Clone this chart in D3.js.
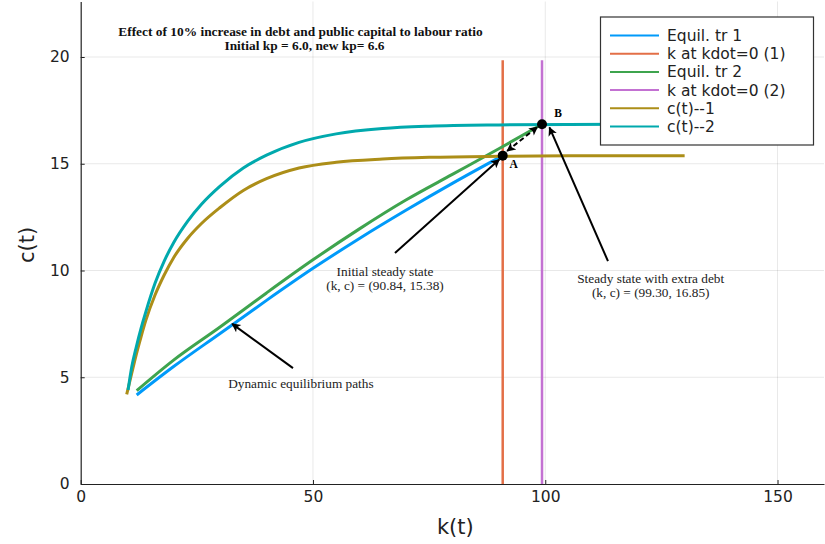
<!DOCTYPE html>
<html>
<head>
<meta charset="utf-8">
<script src="https://cdn.jsdelivr.net/npm/d3@7"></script>
<style>
  body { margin: 0; background: #fff; }
</style>
</head>
<body>
<script>
'use strict';

// axis ticks
const kTicks = [0, 50, 100, 150];
const cTicks = [0, 5, 10, 15, 20];

// Equil. tr 1 (initial saddle path)
const tr1K = [12.05, 20, 30, 40, 50, 60, 70, 80, 90.84];
const tr1C = [4.17, 5.5, 7.05, 8.6, 10.1, 11.5, 12.82, 14.08, 15.38];

// Equil. tr 2 (saddle path with extra debt)
const tr2K = [12.05, 20, 30, 40, 50, 60, 70, 80, 90, 99.3];
const tr2C = [4.37, 5.8, 7.35, 8.95, 10.5, 11.95, 13.3, 14.5, 15.7, 16.85];

// c(t)--1
const ct1K = [9.9, 11, 12, 13, 14, 16, 18, 20, 23, 26, 30, 35, 40, 47, 55, 65, 75, 90, 105, 130];
const ct1C = [4.2, 5.2, 6.1, 6.9, 7.65, 8.85, 9.8, 10.6, 11.5, 12.2, 12.95, 13.75, 14.3, 14.8, 15.07, 15.22, 15.3, 15.35, 15.37, 15.38];

// c(t)--2
const ct2K = [10.2, 11, 12, 13, 14, 16, 18, 20, 23, 26, 30, 35, 40, 47, 55, 65, 75, 90, 105, 130];
const ct2C = [4.4, 5.5, 6.45, 7.3, 8.05, 9.4, 10.45, 11.3, 12.3, 13.1, 13.95, 14.8, 15.4, 16.0, 16.4, 16.65, 16.76, 16.82, 16.84, 16.85];

// k at kdot = 0 vertical lines
const kdot1 = 90.84;
const kdot2 = 99.30;
const vlineC = [0, 19.85];

// steady states
const steadyK = [90.84, 99.30];
const steadyC = [15.38, 16.85];
const steadyNames = ["A", "B"];

const legendLabels = ["Equil. tr 1", "k at kdot=0 (1)", "Equil. tr 2", "k at kdot=0 (2)", "c(t)--1", "c(t)--2"];
const seriesColors = ["#009AFA", "#E36F47", "#3EA44E", "#C371D2", "#AC8E18", "#00A9AD"];

const titleLines = ["Effect of 10% increase in debt and public capital to labour ratio",
                    "Initial kp = 6.0, new kp= 6.6"];

(function() {

    let svg = "";

    const measurements = {
        width: 825,
        height: 544,
        left: 80.7,
        right: 824,
        top: 1.5,
        bottom: 484
    };

    const serif = "'Liberation Serif', 'DejaVu Serif', serif";
    const sans = "'DejaVu Sans', sans-serif";

    window.onload = function() {
        svg = d3.select("body").append("svg")
            .attr("width", measurements.width)
            .attr("height", measurements.height);

        makeChart();
    };

    function zip(ks, cs) {
        return ks.map((k, i) => [k, cs[i]]);
    }

    function makeChart() {
        const x = d3.scaleLinear()
            .domain([0, 160])
            .range([measurements.left, measurements.right]);
        const y = d3.scaleLinear()
            .domain([0, 22.6])
            .range([measurements.bottom, measurements.top]);

        // grid
        const grid = svg.append("g").attr("stroke", "#000").attr("stroke-opacity", 0.09);
        grid.selectAll(".gx").data(kTicks.slice(1)).enter().append("line")
            .attr("x1", d => x(d)).attr("x2", d => x(d))
            .attr("y1", y.range()[0]).attr("y2", y.range()[1]);
        grid.selectAll(".gy").data(cTicks.slice(1)).enter().append("line")
            .attr("x1", x.range()[0]).attr("x2", x.range()[1])
            .attr("y1", d => y(d)).attr("y2", d => y(d));

        drawAxes(x, y);

        const line = d3.line()
            .x(d => x(d[0]))
            .y(d => y(d[1]))
            .curve(d3.curveMonotoneX);

        const series = [
            { pts: zip(tr1K, tr1C), w: 3 },
            { pts: [[kdot1, vlineC[0]], [kdot1, vlineC[1]]], w: 2.5 },
            { pts: zip(tr2K, tr2C), w: 3 },
            { pts: [[kdot2, vlineC[0]], [kdot2, vlineC[1]]], w: 2.5 },
            { pts: zip(ct1K, ct1C), w: 3 },
            { pts: zip(ct2K, ct2C), w: 3 }
        ];

        svg.append("g").selectAll("path")
            .data(series)
            .enter()
            .append("path")
            .attr("d", d => d.pts[0][0] === d.pts[1][0]
                ? "M" + x(d.pts[0][0]) + "," + y(d.pts[0][1]) + "V" + y(d.pts[1][1])
                : line(d.pts))
            .attr("fill", "none")
            .attr("stroke", (d, i) => seriesColors[i])
            .attr("stroke-width", d => d.w);

        // arrowhead marker
        const defs = svg.append("defs");
        defs.append("marker")
            .attr("id", "head")
            .attr("viewBox", "0 0 10 10")
            .attr("refX", 9).attr("refY", 5)
            .attr("markerWidth", 11).attr("markerHeight", 9)
            .attr("markerUnits", "userSpaceOnUse")
            .attr("orient", "auto-start-reverse")
            .append("path")
            .attr("d", "M0,0 L10,5 L0,10 L2.5,5 Z")
            .attr("fill", "#000");

        // annotation arrows [from k, from c, to k, to c]
        const arrows = [
            [67.65, 10.82, 90.1, 15.2],
            [113.5, 10.44, 100.9, 16.7],
            [45.7, 5.43, 32.6, 7.5]
        ];
        svg.append("g").selectAll("line")
            .data(arrows)
            .enter()
            .append("line")
            .attr("x1", d => x(d[0])).attr("y1", d => y(d[1]))
            .attr("x2", d => x(d[2])).attr("y2", d => y(d[3]))
            .attr("stroke", "#000")
            .attr("stroke-width", 2)
            .attr("marker-end", "url(#head)");

        // dashed arrow A -> B
        svg.append("line")
            .attr("x1", x(91.8)).attr("y1", y(15.6))
            .attr("x2", x(98.3)).attr("y2", y(16.72))
            .attr("stroke", "#000")
            .attr("stroke-width", 2)
            .attr("stroke-dasharray", "5,3")
            .attr("marker-start", "url(#head)")
            .attr("marker-end", "url(#head)");

        // steady state dots
        svg.append("g").selectAll("circle")
            .data(steadyK)
            .enter()
            .append("circle")
            .attr("cx", d => x(d))
            .attr("cy", (d, i) => y(steadyC[i]))
            .attr("r", 5)
            .attr("fill", "#000");

        svg.append("g").selectAll("text")
            .data(steadyNames)
            .enter()
            .append("text")
            .attr("x", (d, i) => x(steadyK[i]) + (i === 0 ? 11 : 16))
            .attr("y", (d, i) => y(steadyC[i]) + (i === 0 ? 12 : -7))
            .attr("text-anchor", "middle")
            .attr("font-family", serif)
            .attr("font-weight", "bold")
            .attr("font-size", "11.5px")
            .text(d => d);

        // text annotations
        const notes = [
            { k: 65.5, px: 276, lines: ["Initial steady state", "(k, c) = (90.84, 15.38)"] },
            { k: 122.7, px: 283, lines: ["Steady state with extra debt", "(k, c) = (99.30, 16.85)"] },
            { k: 47.4, px: 388, lines: ["Dynamic equilibrium paths"] }
        ];
        notes.forEach(function(n) {
            n.lines.forEach(function(t, j) {
                svg.append("text")
                    .attr("x", x(n.k))
                    .attr("y", n.px + j * 14)
                    .attr("text-anchor", "middle")
                    .attr("font-family", serif)
                    .attr("font-size", "13.3px")
                    .attr("fill", "#222")
                    .text(t);
            });
        });

        // title
        titleLines.forEach(function(t, j) {
            svg.append("text")
                .attr("x", x(47.3) + j * 4)
                .attr("y", 36 + j * 14)
                .attr("text-anchor", "middle")
                .attr("font-family", serif)
                .attr("font-weight", "bold")
                .attr("font-size", "13.4px")
                .attr("fill", "#111")
                .text(t);
        });

        drawLegend();
    }

    function drawAxes(scaleX, scaleY) {
        let xAxis = d3.axisBottom()
            .scale(scaleX)
            .tickValues(kTicks)
            .tickSizeInner(-4)
            .tickSizeOuter(0)
            .tickPadding(7);

        let yAxis = d3.axisLeft()
            .scale(scaleY)
            .tickValues(cTicks)
            .tickSizeInner(-4)
            .tickSizeOuter(0)
            .tickPadding(11);

        const gx = svg.append('g')
            .attr('transform', 'translate(0,' + measurements.bottom + ')')
            .call(xAxis);
        const gy = svg.append('g')
            .attr('transform', 'translate(' + measurements.left + ',0)')
            .call(yAxis);

        [gx, gy].forEach(function(g) {
            g.selectAll("text")
                .attr("font-family", sans)
                .attr("font-size", "15.5px")
                .attr("fill", "#222");
            g.select(".domain").attr("stroke", "#222").attr("stroke-width", 1.2);
            g.selectAll(".tick line").attr("stroke", "#222");
        });

        svg.append("text")
            .attr("x", (measurements.left + measurements.right) / 2 + 3)
            .attr("y", 534)
            .attr("text-anchor", "middle")
            .attr("font-family", sans)
            .attr("font-size", "21px")
            .attr("fill", "#222")
            .text("k(t)");

        svg.append("text")
            .attr("transform", "translate(34,245) rotate(-90)")
            .attr("text-anchor", "middle")
            .attr("font-family", sans)
            .attr("font-size", "21px")
            .attr("fill", "#222")
            .text("c(t)");
    }

    function drawLegend() {
        const lg = svg.append("g");
        lg.append("rect")
            .attr("x", 600.5).attr("y", 17)
            .attr("width", 213).attr("height", 128)
            .attr("fill", "#fff")
            .attr("stroke", "#333")
            .attr("stroke-width", 1.2);

        const rows = lg.selectAll(".row")
            .data(legendLabels)
            .enter()
            .append("g")
            .attr("transform", (d, i) => "translate(0," + (35.5 + i * 18.2) + ")");

        rows.append("line")
            .attr("x1", 610).attr("x2", 659)
            .attr("stroke", (d, i) => seriesColors[i])
            .attr("stroke-width", 2);

        rows.append("text")
            .attr("x", 667)
            .attr("dy", "0.36em")
            .attr("font-family", sans)
            .attr("font-size", "15.5px")
            .attr("fill", "#222")
            .text(d => d);
    }
})();
</script>
</body>
</html>
